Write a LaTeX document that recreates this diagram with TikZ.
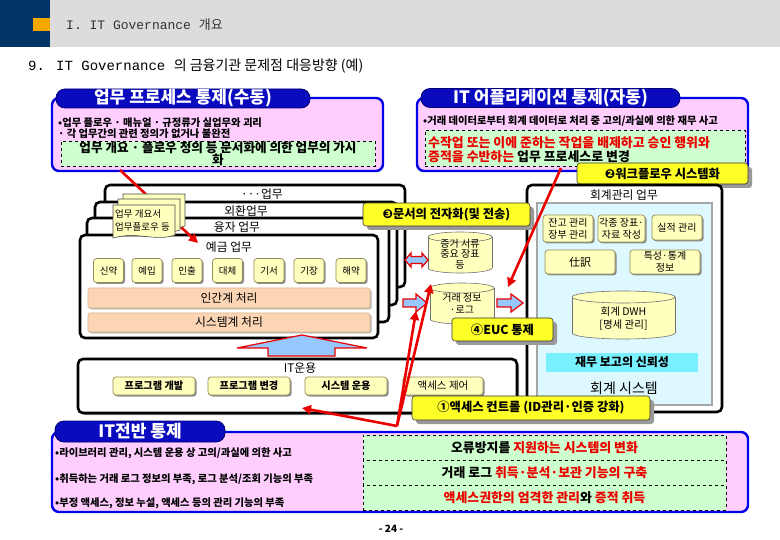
\documentclass[tikz,border=0pt]{standalone}
\usepackage{fontspec}
\setmainfont{Noto Sans CJK KR}
\newfontfamily\lmono{Liberation Mono}
\newfontfamily\dv{DejaVu Sans}
\usetikzlibrary{arrows.meta,shadows}
\newcommand\myfs[1]{\fontsize{#1}{#1}\selectfont}
\definecolor{navy}{RGB}{0,51,102}
\definecolor{hgray}{RGB}{220,220,220}
\definecolor{horange}{RGB}{245,168,0}
\definecolor{tabblue}{RGB}{10,10,190}
\definecolor{tabdark}{RGB}{0,0,120}
\definecolor{panelpink}{RGB}{255,206,255}
\definecolor{panelblue}{RGB}{0,0,230}
\definecolor{dgreen}{RGB}{206,255,206}
\definecolor{ybright}{RGB}{255,255,40}
\definecolor{btnfill}{RGB}{255,255,190}
\definecolor{btnedge}{RGB}{150,140,90}
\definecolor{peach}{RGB}{252,213,180}
\definecolor{peachedge}{RGB}{220,180,140}
\definecolor{lcyan}{RGB}{222,248,255}
\definecolor{cband}{RGB}{120,240,255}
\definecolor{ablue}{RGB}{150,200,255}
\definecolor{rarrow}{RGB}{235,0,0}
\definecolor{rtext}{RGB}{235,0,0}
\tikzset{
  tabbox/.style={fill=tabblue, draw=tabdark, line width=0.8pt, rounded corners=9pt, text=white, font=\bfseries\myfs{17}, inner sep=0pt},
  panel/.style={fill=panelpink, draw=panelblue, line width=2.4pt, rounded corners=7pt},
  dbox/.style={fill=dgreen, draw=black, dashed, line width=0.6pt, inner sep=0pt},
  ybox/.style={fill=ybright, draw=black!80, line width=0.6pt, rounded corners=3pt, inner sep=0pt, font=\bfseries\myfs{12.3},
     drop shadow={shadow xshift=4pt, shadow yshift=-4pt, fill=black!40, opacity=1}},
  frame/.style={draw=black, line width=2.6pt, fill=white, rounded corners=5pt},
  btn/.style={fill=btnfill, draw=btnedge, line width=0.7pt, rounded corners=3pt, inner sep=1pt, align=center,
     drop shadow={shadow xshift=1.5pt, shadow yshift=-1.5pt, fill=black!45, opacity=1}},
  bar/.style={fill=peach, draw=peachedge, line width=0.6pt, rounded corners=2pt, inner sep=0pt, font=\myfs{11.8},
     drop shadow={shadow xshift=1.5pt, shadow yshift=-1.5pt, fill=black!30, opacity=1}},
  redarr/.style={draw=rarrow, line width=2.6pt, -{Triangle[length=9pt,width=9pt]}},
  blk/.style={fill=ablue, draw=rarrow, line width=1.2pt, line join=miter},
  bul/.style={anchor=west, inner sep=0pt, font=\bfseries\myfs{10.3}},
  bigb/.style={inner sep=0pt, font=\bfseries\myfs{12.9}},
  lbl/.style={inner sep=0pt, font=\myfs{11.8}},
  cyltxt/.style={inner sep=0pt, font=\myfs{10}},
}
\newcommand\cylinder[5]{% x1, x2, ytop, ybot, ry
  \filldraw[fill=btnfill, draw=black!55, line width=0.6pt] ({(#1+#2)/2},#4) ellipse [x radius={(#2-#1)/2}, y radius=#5];
  \fill[btnfill] (#1,#3) rectangle (#2,#4);
  \draw[black!55, line width=0.6pt] (#1,#3) -- (#1,#4) (#2,#3) -- (#2,#4);
  \filldraw[fill=btnfill, draw=black!55, line width=0.6pt] ({(#1+#2)/2},#3) ellipse [x radius={(#2-#1)/2}, y radius=#5];
}
\newcommand\docsheet[4]{%
  \filldraw[fill=btnfill, draw=black!70, line width=0.6pt] (#1,#2) -- (#3,#2) -- (#3,#4-3)
    .. controls (#3-20,#4+4) and (#1+25,#4-7) .. (#1,#4) -- cycle;}
\begin{document}
\begin{tikzpicture}[x=1pt,y=-1pt]
\useasboundingbox (0,0) rectangle (780,540);
\fill[white] (0,0) rectangle (780,540);
% header
\fill[navy] (0,0) rectangle (50,47);
\fill[hgray] (50,0) rectangle (780,47);
\fill[horange] (33,18) rectangle (50,31);
\node[anchor=west, inner sep=0pt, text=black!80, font=\myfs{13}] (title) at (66,25) {{\lmono I. IT Governance }개요};
\node[anchor=west, inner sep=0pt, font=\myfs{14}] (subtitle) at (28,66) {{\lmono 9. IT Governance }의 금융기관 문제점 대응방향 (예)};

% top-left panel
\path[panel] (52,98) rectangle (383,171);
\node[tabbox, minimum width=254pt, minimum height=19pt] (tab1) at (183,98.5) {업무 프로세스 통제(수동)};
\node[bul] (b1a) at (58,123) {•업무 플로우 · 매뉴얼 · 규정류가 실업무와 괴리};
\node[bul] (b1b) at (58,134) {· 각 업무간의 관련 정의가 없거나 불완전};
\node[dbox, minimum width=314pt, minimum height=25pt, align=center, font=\bfseries\fontsize{12.6}{12}\selectfont] (d1) at (218,153.5) {업무 개요 · 플로우 정의 등 문서화에 의한 업무의 가시\\화};

% top-right panel
\path[panel] (417,98) rectangle (748,171);
\node[tabbox, minimum width=259pt, minimum height=19pt] (tab2) at (550.5,98) {IT 어플리케이션 통제(자동)};
\node[bul] (b2a) at (423,121) {•거래 데이터로부터 회계 데이터로 처리 중 고의/과실에 의한 재무 사고};
\node[dbox, minimum width=320pt, minimum height=36pt] (d2) at (585,148) {};
\node[bigb, anchor=west, text=rtext] (d2a) at (428,142.5) {수작업 또는 이에 준하는 작업을 배제하고 승인 행위와};
\node[bigb, anchor=west] (d2b) at (428,157) {\textcolor{rtext}{증적을 수반하는} 업무 프로세스로 변경};
\node[ybox, minimum width=171pt, minimum height=21pt] (y2) at (662.5,173.5) {{\dv ❷}워크플로우 시스템화};

% stacked business frames
\path[frame] (105,185) rectangle (405,287);
\node[lbl] (f1l) at (262,194) {···업무};
\path[frame] (95,202) rectangle (397,305);
\node[lbl] (f2l) at (246,211) {외환업무};
\path[frame] (87,218) rectangle (389,322);
\node[lbl] (f3l) at (237,227) {융자 업무};
\path[frame] (80,235) rectangle (378,338);
\node[lbl] (f4l) at (229,247) {예금 업무};

\coordinate (r1s) at (120,170);
\coordinate (r1e) at (198,243);
\draw[redarr] (r1s) -- (r1e);

% document stack
\docsheet{123}{194}{185}{229}
\docsheet{118}{199}{180}{233}
\docsheet{113}{205}{175}{238}
\node[anchor=west, inner sep=0pt, font=\myfs{9.5}] (doc1) at (115,214) {업무 개요서};
\node[anchor=west, inner sep=0pt, font=\myfs{9.5}] (doc2) at (115,227) {업무플로우 등};

% buttons
\foreach \n/\x/\t in {k1/108.5/신약, k2/147/예입, k3/187/인출, k4/227.5/대체, k5/269/기서, k6/309/기장, k7/351/해약}{
  \node[btn, minimum width=30pt, minimum height=24pt, font=\myfs{9.5}] (\n) at (\x,270.5) {\t};
}
\node[bar, minimum width=282pt, minimum height=20pt] (bar1) at (229,298) {인간계 처리};
\node[bar, minimum width=282pt, minimum height=19pt] (bar2) at (229,322.5) {시스템계 처리};

% accounting frame
\path[frame] (527,185) rectangle (722,412);
\fill[lcyan] (537,203) rectangle (712,405);
\draw[black!35, line width=1.2pt] (537,203) rectangle (712,405);
\node[lbl] (accl) at (624,195) {회계관리 업무};
\node[btn, minimum width=50pt, minimum height=27pt, font=\fontsize{10}{12}\selectfont] (a1) at (568,228.5) {잔고 관리\\장부 관리};
\node[btn, minimum width=47pt, minimum height=27pt, font=\fontsize{10}{12}\selectfont] (a2) at (621.5,228.5) {각종 장표·\\자료 작성};
\node[btn, minimum width=50pt, minimum height=25pt, font=\myfs{10}] (a3) at (677,227.5) {실적 관리};
\node[btn, minimum width=70pt, minimum height=24pt, font=\myfs{11}] (a4) at (580,262) {仕訳};
\node[btn, minimum width=70pt, minimum height=24pt, font=\fontsize{10}{11.5}\selectfont] (a5) at (665,262) {특성·통계\\정보};
\cylinder{572}{675}{297}{333}{6}
\node[cyltxt, font=\myfs{10.5}] (dwh1) at (623.5,312) {회계 DWH};
\node[cyltxt, font=\myfs{10.5}] (dwh2) at (623.5,325) {[명세 관리]};
\node[inner sep=0pt, fill=cband, minimum width=152pt, minimum height=19pt, font=\bfseries\myfs{12}] (trust) at (622,362.5) {재무 보고의 신뢰성};
\node[inner sep=0pt, font=\myfs{14}] (accsys) at (624,388) {회계 시스템};

% middle cylinders and block arrows
\cylinder{428}{492}{237}{268}{5}
\node[cyltxt] (c1a) at (460,244) {증거 서류};
\node[cyltxt] (c1b) at (460,254) {중요 장표};
\node[cyltxt] (c1c) at (460,264.5) {등};
\cylinder{430}{494}{288}{319}{5}
\node[cyltxt] (c2a) at (462,298) {거래 정보};
\node[cyltxt] (c2b) at (462,310) {·로그};
\path[blk] (405,260) -- (411,253) -- (411,256.5) -- (422,256.5) -- (422,253) -- (428,260) -- (422,267) -- (422,263.5) -- (411,263.5) -- (411,267) -- cycle;
\path[blk] (403,299) -- (416,299) -- (416,294) -- (427,303) -- (416,312) -- (416,307) -- (403,307) -- cycle;
\path[blk] (497,299) -- (511,299) -- (511,294) -- (523,303) -- (511,312) -- (511,307) -- (497,307) -- cycle;

\node[ybox, minimum width=167pt, minimum height=23pt] (y3) at (446.5,214.5) {{\dv ❸}문서의 전자화(및 전송)};
\node[ybox, minimum width=101pt, minimum height=23pt] (y4) at (502.5,329.5) {④EUC 통제};

\coordinate (r2s) at (561,168);
\coordinate (r2e) at (508,287);
\draw[redarr] (r2s) -- (r2e);

% big up arrow
\path[blk] (237,348) -- (302,335) -- (367,348) -- (335,348) -- (335,356) -- (268,356) -- (268,348) -- cycle;

% IT operation frame
\path[frame, drop shadow={shadow xshift=2pt, shadow yshift=-2pt, fill=black!40, opacity=1}] (78,359) rectangle (517,413);
\node[lbl] (itop) at (300,368) {IT운용};
\node[btn, minimum width=82pt, minimum height=18pt, font=\bfseries\myfs{10.2}] (o1) at (154,386) {프로그램 개발};
\node[btn, minimum width=82pt, minimum height=18pt, font=\bfseries\myfs{10.2}] (o2) at (249,386) {프로그램 변경};
\node[btn, minimum width=82pt, minimum height=18pt, font=\bfseries\myfs{10.2}] (o3) at (346,386) {시스템 운용};
\node[btn, minimum width=80pt, minimum height=18pt, font=\myfs{10.5}] (o4) at (443,386) {액세스 제어};

\coordinate (hub) at (397,426);
\coordinate (r3a) at (431,284);
\coordinate (r3b) at (416,311);
\coordinate (r3c) at (302,408);
\draw[redarr] (hub) -- (r3a);
\draw[redarr] (hub) -- (r3b);
\draw[redarr] (hub) -- (r3c);

\node[ybox, minimum width=238pt, minimum height=24pt] (y1) at (531,408) {①액세스 컨트롤 (ID관리·인증 강화)};

% bottom panel
\path[panel] (52,432) rectangle (748,512);
\node[tabbox, minimum width=170pt, minimum height=21pt] (tab3) at (140,431.5) {IT전반 통제};
\node[bul] (b3a) at (55,453) {•라이브러리 관리, 시스템 운용 상 고의/과실에 의한 사고};
\node[bul] (b3b) at (55,479) {•취득하는 거래 로그 정보의 부족, 로그 분석/조회 기능의 부족};
\node[bul] (b3c) at (55,503) {•부정 액세스, 정보 누설, 액세스 등의 관리 기능의 부족};
\node[dbox, minimum width=363pt, minimum height=25pt] (g1) at (544.5,447.5) {};
\node[dbox, minimum width=363pt, minimum height=25pt] (g2) at (544.5,472.5) {};
\node[dbox, minimum width=363pt, minimum height=25pt] (g3) at (544.5,497.5) {};
\node[bigb] (g1t) at (g1) {오류방지를 \textcolor{rtext}{지원하는 시스템의 변화}};
\node[bigb] (g2t) at (g2) {거래 로그 \textcolor{rtext}{취득·분석·보관 기능의 구축}};
\node[bigb] (g3t) at (g3) {\textcolor{rtext}{액세스권한의 엄격한 관리}와 \textcolor{rtext}{증적 취득}};

\node[inner sep=0pt, font=\bfseries\myfs{10}] (page) at (391,529) {- 24 -};
\end{tikzpicture}
\end{document}
